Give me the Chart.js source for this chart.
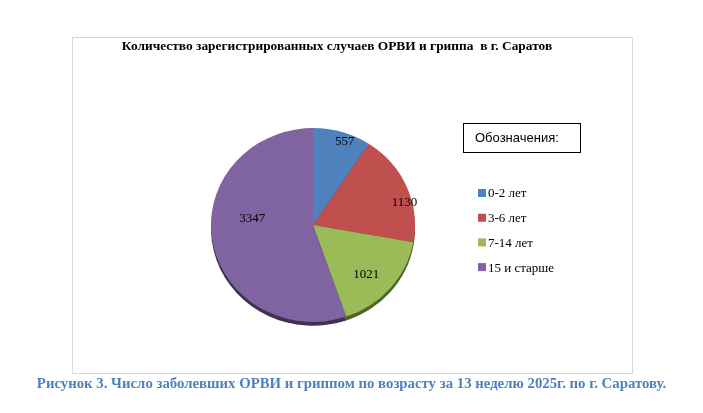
<!DOCTYPE html>
<html lang="ru">
<head>
<meta charset="utf-8">
<title>ОРВИ и грипп, г. Саратов</title>
<script src="https://cdn.jsdelivr.net/npm/chart.js@4.4.1/dist/chart.umd.min.js"></script>
<style>
  body { margin: 0; background: #fff; }
  #page { position: relative; width: 703px; height: 413px; overflow: hidden; }
  #frame { position: absolute; left: 72px; top: 37px; width: 559px; height: 335px; border: 1px solid #d9d9d9; }
  #chartBox { position: absolute; left: 0; top: 0; width: 703px; height: 413px; }
  #caption { position: absolute; left: 0; top: 375px; width: 703px; text-align: center;
    font: bold 14.8px "Liberation Serif", serif; color: #4f81bd; }
</style>
</head>
<body>
<div id="page">
  <div id="frame"></div>
  <div id="chartBox"><canvas id="chart"></canvas></div>
  <div id="caption">Рисунок 3. Число заболевших ОРВИ и гриппом по возрасту за 13 неделю 2025г. по г. Саратову.</div>
</div>
<script>
// Данные диаграммы
const categories = ['0-2 лет', '3-6 лет', '7-14 лет', '15 и старше'];
const cases = [557, 1130, 1021, 3347];
const chartTitle = 'Количество зарегистрированных случаев ОРВИ и гриппа  в г. Саратов';
const legendTitle = 'Обозначения:';

// Стиль
const colors = ['#4f81bd', '#c0504d', '#9bbb59', '#8064a2'];
const rimColors = ['#2c4d75', '#772c2a', '#4f6228', '#3f3151'];
// [доля радиуса, сдвиг угла в градусах] для подписей значений
const labelPlacement = [[0.93, 3], [0.93, 8], [0.72, 3], [0.6, 17]];
const tilt = 0.95;

// Наклон круга (имитация 3D) и тёмный край снизу
const tiltPlugin = {
  id: 'tilt',
  beforeDatasetsDraw(chart) {
    const ctx = chart.ctx;
    const arcs = chart.getDatasetMeta(0).data;
    const cx = arcs[0].x, cy = arcs[0].y;
    ctx.save();
    ctx.translate(cx, cy);
    ctx.scale(1, tilt);
    ctx.translate(-cx, -cy);
    arcs.forEach((arc, i) => {
      const p = arc.getProps(['x', 'y', 'startAngle', 'endAngle', 'outerRadius'], true);
      ctx.beginPath();
      ctx.moveTo(p.x, p.y + 4);
      ctx.arc(p.x, p.y + 4, p.outerRadius, p.startAngle, p.endAngle);
      ctx.closePath();
      ctx.fillStyle = rimColors[i];
      ctx.fill();
    });
  },
  afterDatasetsDraw(chart) {
    chart.ctx.restore();
  }
};

// Подписи значений на секторах
const valueLabels = {
  id: 'valueLabels',
  afterDatasetsDraw(chart) {
    const ctx = chart.ctx;
    const arcs = chart.getDatasetMeta(0).data;
    ctx.save();
    ctx.font = '13px "Liberation Serif", serif';
    ctx.fillStyle = '#000';
    ctx.textAlign = 'center';
    ctx.textBaseline = 'middle';
    arcs.forEach((arc, i) => {
      const p = arc.getProps(['x', 'y', 'startAngle', 'endAngle', 'outerRadius'], true);
      const a = (p.startAngle + p.endAngle) / 2 + labelPlacement[i][1] * Math.PI / 180;
      const d = p.outerRadius * labelPlacement[i][0];
      ctx.fillText(chart.data.datasets[0].data[i], p.x + d * Math.cos(a), p.y + 1 + d * Math.sin(a) * tilt);
    });
    ctx.restore();
  }
};

// Заголовок и легенда
const decorations = {
  id: 'decorations',
  afterDraw(chart) {
    const ctx = chart.ctx;
    ctx.save();
    ctx.fillStyle = '#000';
    ctx.textBaseline = 'middle';
    ctx.textAlign = 'center';
    ctx.font = 'bold 13.4px "Liberation Serif", serif';
    ctx.fillText(chartTitle, 337, 47);

    ctx.strokeStyle = '#000';
    ctx.lineWidth = 1;
    ctx.strokeRect(463.5, 123.5, 117, 29);
    ctx.textAlign = 'left';
    ctx.font = '13px "Liberation Sans", sans-serif';
    ctx.fillText(legendTitle, 475, 138);

    ctx.font = '13px "Liberation Serif", serif';
    chart.data.labels.forEach((lab, i) => {
      const y = 193 + i * 24.7;
      ctx.fillStyle = chart.data.datasets[0].backgroundColor[i];
      ctx.fillRect(478, y - 4, 8, 8);
      ctx.fillStyle = '#000';
      ctx.fillText(lab, 488, y + 1);
    });
    ctx.restore();
  }
};

new Chart(document.getElementById('chart'), {
  type: 'pie',
  data: {
    labels: categories,
    datasets: [{
      data: cases,
      backgroundColor: colors,
      borderWidth: 0
    }]
  },
  options: {
    responsive: true,
    maintainAspectRatio: false,
    animation: false,
    layout: { padding: { left: 211, right: 288, top: 123, bottom: 86 } },
    plugins: {
      legend: { display: false },
      title: { display: false },
      tooltip: { enabled: false }
    }
  },
  plugins: [tiltPlugin, valueLabels, decorations]
});
</script>
</body>
</html>
